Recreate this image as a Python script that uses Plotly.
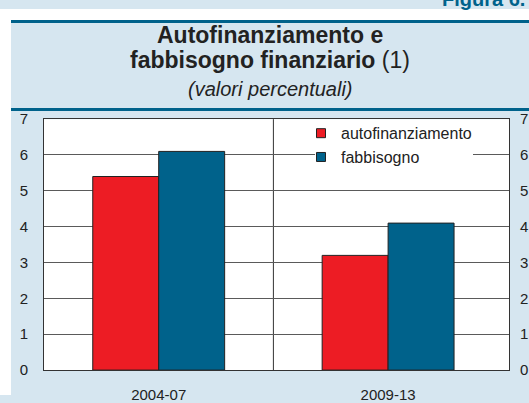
import plotly.graph_objects as go

# Data
periods = ["2004-07", "2009-13"]
autofinanziamento = [5.4, 3.2]
fabbisogno = [6.1, 4.1]
series_names = ["autofinanziamento", "fabbisogno"]
y_ticks = [0, 1, 2, 3, 4, 5, 6, 7]

RED = "#ED1C24"
BLUE = "#00628B"
PANEL = "#D6E6F0"
GRID = "#5a5a5a"
FONT = "Liberation Sans, Arial, sans-serif"

W, H = 529, 403
# plot area in pixels
px_l, px_r, px_t, px_b = 44, 509, 115, 377

fig = go.Figure()

for name, vals, col in [(series_names[0], autofinanziamento, RED),
                        (series_names[1], fabbisogno, BLUE)]:
    fig.add_trace(go.Bar(
        x=periods, y=vals, name=name, marker_color=col,
        marker_line=dict(color="#222222", width=1),
        showlegend=False,
    ))
    # legend entry with a small square key
    fig.add_trace(go.Scatter(
        x=[None], y=[None], mode="markers", name=name,
        marker=dict(symbol="square", size=9, color=col,
                    line=dict(color="#222222", width=1)),
        legendgroup=name,
    ))

# invisible trace to drive the right-hand axis
fig.add_trace(go.Scatter(x=[None], y=[None], yaxis="y2", showlegend=False))

fig.update_layout(
    width=W, height=H,
    margin=dict(l=0, r=0, t=0, b=0),
    paper_bgcolor=PANEL,
    plot_bgcolor="white",
    barmode="group", bargap=0.425, bargroupgap=0,
    font=dict(family=FONT, size=14, color="#222222"),
    xaxis=dict(
        type="category",
        domain=[px_l / W, px_r / W],
        range=[-0.5, 1.527],
        showline=True, linecolor="#333333", linewidth=1, mirror=True,
        showgrid=False, ticks="", ticklabelstandoff=11,
        tickfont=dict(size=15, color="#222222"),
    ),
    yaxis=dict(
        domain=[1 - px_b / H, 1 - px_t / H],
        range=[0, 7], tickvals=y_ticks,
        showline=True, linecolor="#333333", linewidth=1, mirror=True,
        showgrid=True, gridcolor=GRID, gridwidth=1,
        zeroline=False, ticks="", ticklabelstandoff=12,
        tickfont=dict(size=15, color="#222222"),
    ),
    yaxis2=dict(
        overlaying="y", side="right", range=[0, 7], tickvals=y_ticks,
        showgrid=False, zeroline=False, showline=False, ticks="",
        ticklabelstandoff=10,
        tickfont=dict(size=15, color="#222222"),
    ),
    legend=dict(
        x=301 / W, y=1 - 112 / H, xanchor="left", yanchor="top",
        bgcolor="rgba(0,0,0,0)", borderwidth=0,
        font=dict(size=16, color="#222222"),
        itemwidth=30, tracegroupgap=0,
    ),
)

# vertical separator between the two periods
fig.add_shape(type="line", xref="x", yref="y domain", x0=0.5, x1=0.5,
              y0=0, y1=1, line=dict(color="#333333", width=1), layer="below")

# white strips outside the panel, panel rules, and a gap in the grid under the legend
fig.add_shape(type="rect", xref="paper", yref="paper", x0=0, x1=1,
              y0=1 - 12 / H, y1=1, fillcolor="white", line_width=0, layer="above")
fig.add_shape(type="rect", xref="paper", yref="paper", x0=0, x1=11 / W,
              y0=0, y1=1, fillcolor="white", line_width=0, layer="above")
fig.add_shape(type="line", xref="paper", yref="paper", x0=11 / W, x1=1,
              y0=1 - 13 / H, y1=1 - 13 / H, line=dict(color=BLUE, width=3), layer="above")
fig.add_shape(type="line", xref="paper", yref="paper", x0=11 / W, x1=1,
              y0=1 - 105 / H, y1=1 - 105 / H, line=dict(color=BLUE, width=3), layer="above")
fig.add_shape(type="rect", xref="paper", yref="paper", x0=315 / W, x1=473 / W,
              y0=1 - 160 / H, y1=1 - 145 / H, fillcolor="white", line_width=0, layer="above")

# title block
fig.add_annotation(text="<b>Autofinanziamento e</b>", x=270 / W, y=1 - 27 / H,
                   xref="paper", yref="paper", showarrow=False,
                   font=dict(size=23, color="#222222"), yanchor="middle")
fig.add_annotation(text="<b>fabbisogno finanziario</b> (1)", x=270 / W, y=1 - 53 / H,
                   xref="paper", yref="paper", showarrow=False,
                   font=dict(size=23, color="#222222"), yanchor="middle")
fig.add_annotation(text="<i>(valori percentuali)</i>", x=270 / W, y=1 - 84 / H,
                   xref="paper", yref="paper", showarrow=False,
                   font=dict(size=20, color="#222222"), yanchor="middle")
fig.add_annotation(text="<b>Figura 6.</b>", x=440 / W, y=1 - 3 / H,
                   xref="paper", yref="paper", showarrow=False,
                   xanchor="left", yanchor="bottom",
                   font=dict(size=20, color=BLUE))

fig.write_html("out.html")
